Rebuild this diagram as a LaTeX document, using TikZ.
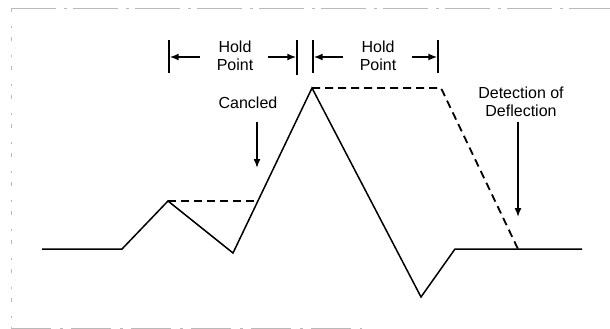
\documentclass[tikz,border=0pt]{standalone}
\usepackage{fontspec}
\setmainfont{Liberation Sans}
\usetikzlibrary{arrows.meta}
\begin{document}
\begin{tikzpicture}[x=1pt,y=-1pt,
  wave/.style={line width=1.5pt, line join=miter},
  hold/.style={line width=1.8pt, dash pattern=on 8pt off 5pt},
  lbl/.style={font=\fontsize{16}{18}\selectfont, align=center, inner sep=0pt},
  bar/.style={line width=1.5pt},
  pointer/.style={line width=1.5pt, -{Latex[length=9pt,width=7pt]}},
  frame/.style={draw=gray!55, line width=0.9pt}
]
\useasboundingbox (0,0) rectangle (610,329);
% faint frame
\draw[frame, dash pattern=on 45pt off 8pt on 3pt off 6pt] (11,8) -- (610,8);
\draw[frame, dash pattern=on 4pt off 14pt on 2pt off 9pt] (11,8) -- (11,328);
\draw[frame, dash pattern=on 40pt off 9pt on 3pt off 8pt] (11,328) -- (362,328);

% waveform points
\coordinate (s0) at (42,249);
\coordinate (s1) at (122,249);
\coordinate (p1) at (168,201);
\coordinate (v1) at (233,253);
\coordinate (c1) at (258,201);
\coordinate (p2) at (312,88);
\coordinate (v2) at (421,297);
\coordinate (r1) at (455,249);
\coordinate (s2) at (582,249);
\coordinate (d1) at (441,88);
\coordinate (d2) at (518,249);

\draw[wave] (s0) -- (s1) -- (p1) -- (v1) -- (p2) -- (v2) -- (r1) -- (s2);
\draw[hold] (p1) -- (c1);
\draw[hold] (p2) -- (d1) -- (d2);

% hold point brackets
\coordinate (b1t) at (169,40); \coordinate (b1b) at (169,73);
\coordinate (b2t) at (297,40); \coordinate (b2b) at (297,75);
\coordinate (b3t) at (313,40); \coordinate (b3b) at (313,73);
\coordinate (b4t) at (438,40); \coordinate (b4b) at (438,73);
\draw[bar] (b1t) -- (b1b);
\draw[bar] (b2t) -- (b2b);
\draw[bar] (b3t) -- (b3b);
\draw[bar] (b4t) -- (b4b);

\node[lbl] (h1) at (235,56) {Hold\\Point};
\node[lbl] (h2) at (378,56) {Hold\\Point};
\coordinate (a1s) at (200,57); \coordinate (a1e) at (169.7,57);
\coordinate (a2s) at (268,57); \coordinate (a2e) at (296.3,57);
\coordinate (a3s) at (343,57); \coordinate (a3e) at (313.7,57);
\coordinate (a4s) at (412,57); \coordinate (a4e) at (437.3,57);
\draw[pointer] (a1s) -- (a1e);
\draw[pointer] (a2s) -- (a2e);
\draw[pointer] (a3s) -- (a3e);
\draw[pointer] (a4s) -- (a4e);

% labels with pointers
\node[lbl] (cn) at (248,103) {Cancled};
\coordinate (cs) at (257,122); \coordinate (ce) at (257,168);
\draw[pointer] (cs) -- (ce);

\node[lbl] (dn) at (521,102) {Detection of\\Deflection};
\coordinate (ds) at (518,122); \coordinate (de) at (518,217);
\draw[pointer] (ds) -- (de);
\end{tikzpicture}
\end{document}
